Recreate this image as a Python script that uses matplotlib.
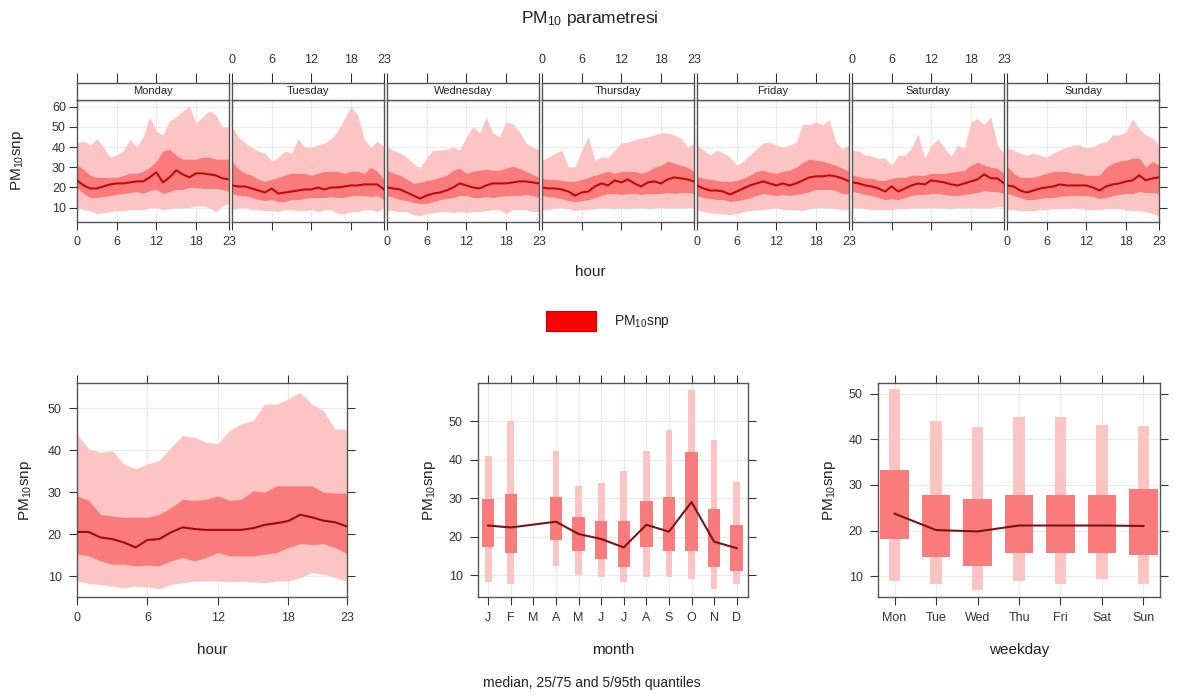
import numpy as np
import matplotlib
matplotlib.use('Agg')
import matplotlib.pyplot as plt
from matplotlib.patches import Rectangle

plt.rcParams['font.family'] = ['Liberation Sans', 'DejaVu Sans']
plt.rcParams['mathtext.fontset'] = 'custom'
plt.rcParams['mathtext.rm'] = 'Liberation Sans'
plt.rcParams['mathtext.it'] = 'Liberation Sans:italic'
plt.rcParams['axes.edgecolor'] = '#555555'
plt.rcParams['axes.linewidth'] = 1.0

# ---------------- data ----------------
hours = list(range(24))
days = ['Monday', 'Tuesday', 'Wednesday', 'Thursday', 'Friday', 'Saturday', 'Sunday']

# hour x weekday: median, 25/75, 5/95 quantiles
dh_med = [
    [23.5, 21, 19.5, 19.5, 20.5, 21.5, 22, 22, 22.5, 23, 23, 25, 27.5, 22.5, 25, 28.5, 26.5, 25, 27, 27, 26.5, 26, 24.5, 24],
    [21, 20.5, 20.5, 19.5, 18.5, 17.5, 19.5, 17, 17.5, 18, 18.5, 19, 19, 20, 19, 20, 20, 20.5, 21, 21, 21.5, 21.5, 21.5, 19],
    [20, 19.5, 19, 17.5, 16, 14.5, 16, 17, 17.5, 18.5, 20, 22, 21, 20, 19.5, 21, 22, 22, 22, 22.5, 23, 23, 22.5, 22],
    [20, 19.5, 19.5, 19, 18, 16, 17.5, 18, 20.5, 22, 21, 23.5, 22.5, 24, 22, 20.5, 22.5, 23, 22, 24, 25, 24.5, 24, 23],
    [21, 19.5, 18.5, 18.5, 18, 16.5, 18, 19.5, 21, 22, 23, 22, 21, 22, 21, 22, 23.5, 25, 25.5, 25.5, 26, 25.5, 24.5, 23],
    [22.5, 22, 21, 20.5, 19.5, 18, 20.5, 18, 19.5, 21, 22, 21.5, 23.5, 23, 22.5, 21.5, 21, 22, 23, 24, 26.5, 24.5, 24.5, 22],
    [21, 20.5, 18.5, 17.5, 18.5, 19.5, 20, 20.5, 21.5, 21, 21, 21, 21, 20, 18.5, 20.5, 21.5, 22, 23, 23.5, 26, 23.5, 24.5, 25],
]
dh_q25 = [
    [20, 17, 15, 15, 15.5, 16, 16.5, 17, 17.5, 18, 17, 18.5, 19, 17, 18, 19, 19, 20, 20, 19.5, 19.5, 19.5, 19, 18],
    [17, 16, 16, 15, 14, 13.5, 14, 13, 13, 14, 14, 14.5, 15, 15, 15, 15.5, 15, 15, 16, 16, 16, 15.5, 16, 14],
    [16, 15, 14, 13.5, 12.5, 12, 12, 13, 14, 14.5, 15, 16, 16, 15, 15, 15.5, 15, 15.5, 16, 16, 16, 16.5, 16, 15],
    [16, 15.5, 15, 14.5, 13.5, 13, 13.5, 14, 15, 16, 17, 17, 16.5, 17, 17, 16.5, 17, 17, 17, 17.5, 17, 17.5, 17.5, 17],
    [16, 15, 14.5, 14, 14, 13, 13.5, 14, 15, 16, 17, 16.5, 16, 16.5, 16, 16.5, 17, 18, 19, 19, 19, 18.5, 17, 17],
    [18, 17.5, 16.5, 16, 15, 14, 14.5, 14, 15, 16, 16.5, 16.5, 17, 17, 16.5, 16, 16, 16.5, 17, 17.5, 18.5, 18, 18, 17],
    [17, 16, 15, 14, 14, 14.5, 15, 15, 15.5, 16, 16, 16, 16, 15.5, 14.5, 15, 16, 16.5, 17, 17, 18, 17.5, 17.5, 17],
]
dh_q75 = [
    [31, 29, 26, 25, 25, 25, 25, 26, 27, 27, 28, 30, 33, 38, 39, 36, 34, 34, 34, 35, 35, 34, 34, 34],
    [33, 29, 27, 26, 24, 23, 24, 25, 26, 27, 27, 27, 26, 27, 28, 28, 28, 27, 28, 28, 27, 30, 28, 24],
    [28.5, 27, 26, 24, 22, 22.5, 23.5, 24, 25, 26, 28.5, 29.5, 27, 28, 28.5, 29, 28.5, 28.5, 29.5, 30.5, 29.5, 28, 26.5, 25],
    [24.5, 24, 24, 23.5, 23, 23, 24, 25, 26, 27, 28, 27, 28, 28, 28, 27, 28, 30, 31, 33, 32, 31, 30, 28],
    [25.5, 24.5, 24, 23.5, 23, 23, 23.5, 24.5, 26, 28, 28.5, 27.5, 27, 28, 28.5, 30, 32.5, 34, 33.5, 33, 32, 31, 29.5, 28],
    [26, 25.5, 24.5, 24.5, 23.5, 23.5, 24.5, 25, 25, 26, 26, 26, 27, 27, 27, 27.5, 28, 28.5, 31, 32.5, 31, 30, 29.5, 27],
    [30.5, 27, 25, 25, 25, 26, 27, 28, 28, 28, 27, 27, 26, 26, 26, 30, 32, 33, 33.5, 34.5, 34.5, 30, 33, 31],
]
dh_q05 = [
    [10, 9, 8.5, 7, 7.5, 8, 8.5, 8.5, 9, 9, 9, 10, 10, 9, 9.5, 10, 10, 10, 11, 11, 10, 8, 11, 12],
    [9, 10, 10, 9, 9, 8.5, 8.5, 8, 9, 9, 8.5, 8.5, 9, 8, 9, 9, 7, 7, 8, 8, 9, 9, 8, 10],
    [9, 8.5, 8, 8, 6.5, 6, 7, 7.5, 8, 8, 7.5, 8, 7.5, 8, 8, 8.5, 9, 9, 7, 9, 9, 9, 8, 8],
    [9, 9, 10, 10, 9.5, 8.5, 9, 9, 9.5, 10, 10, 9.5, 10, 9.5, 10, 10, 9.5, 10, 10, 10, 10, 10, 10, 10],
    [9, 8, 7.5, 7, 7, 6.5, 7, 8, 8.5, 9, 9, 9.5, 10, 9, 9, 9, 8.5, 9.5, 10, 10, 10, 9.5, 9, 9],
    [10, 10, 9.5, 9, 9, 9, 9, 9.5, 9.5, 10, 10, 10, 10, 10, 10, 9.5, 10, 10, 10, 10, 10, 10, 10.5, 10.5],
    [9, 9, 8.5, 8.5, 8.5, 9, 9, 9.5, 9.5, 9.5, 10, 9.5, 9, 9, 9, 9.5, 9.5, 9.5, 9, 8.5, 8.5, 8, 7, 6],
]
dh_q95 = [
    [42, 43, 41, 44, 40, 35, 36, 38, 44, 40, 45, 55, 48, 46, 53, 55, 58, 60, 52, 55, 58, 56, 50, 50],
    [50, 45, 42, 40, 38, 37, 33, 35, 38, 37, 44, 40, 40, 41, 42, 44, 48, 54, 60, 56, 44, 40, 43, 40],
    [40, 38.5, 37, 35, 32, 29.5, 35, 38.5, 38.5, 39, 40, 38.5, 45, 50, 47, 55, 47, 45, 52.5, 51.5, 48, 42, 40, 38.5],
    [33.5, 35, 37, 38.5, 30, 30, 38.5, 45, 33.5, 35, 35, 38.5, 42, 42.5, 43.5, 44.5, 45, 46, 47, 47, 46, 44.5, 40, 42],
    [41, 38.5, 36, 38.5, 37, 35, 31, 33, 36, 39, 42, 42.5, 41, 40, 41, 42.5, 51.5, 51, 52.5, 51, 53.5, 42.5, 39, 41],
    [38.5, 38, 36, 35.5, 34.5, 34.5, 31, 36, 36, 39.5, 46.5, 34.5, 41, 44, 39.5, 35.5, 41, 39.5, 52.5, 54, 51, 55, 41, 37],
    [39.5, 38.5, 37, 36, 37, 36, 35, 37, 38.5, 40, 41, 41, 39.5, 40, 42, 42.5, 46, 46, 47.5, 54, 49, 46, 44.5, 41],
]

# hour of day (all days)
hr_med = [20.5, 20.5, 19.2, 18.8, 18, 16.8, 18.6, 18.8, 20.4, 21.6, 21.2, 21, 21, 21, 21, 21.4, 22.2, 22.6, 23.1, 24.6, 24, 23.2, 22.8, 21.8]
hr_q25 = [15.3, 14.8, 13.6, 12.8, 12.8, 12.4, 12.6, 12.4, 13.6, 14.4, 13.6, 14.4, 15.6, 14.8, 14.8, 14.8, 15.2, 15.6, 16.8, 17.7, 17.5, 17.7, 16.8, 15.3]
hr_q75 = [29.1, 28, 24.7, 24.3, 24, 24, 24, 24.7, 26.3, 28.3, 28, 28.3, 29.1, 28, 28.3, 30.3, 30, 31.5, 31.5, 31.5, 31.5, 30, 29.8, 29.7]
hr_q05 = [8.8, 8.2, 8, 7.6, 7.2, 7.6, 7.4, 7, 8, 8.4, 8.8, 8.8, 8.8, 8.6, 8.8, 8.6, 8.4, 8.8, 8.8, 9.6, 10.8, 10.4, 9.6, 8.8]
hr_q95 = [43.9, 40.3, 39.5, 39.9, 36.7, 35.5, 36.7, 37.5, 40.7, 43.5, 43.1, 41.9, 41.5, 44.7, 46.3, 47.1, 51, 51, 52.2, 53.8, 51, 49.4, 45, 45]

# month (March missing)
months = ['J', 'F', 'M', 'A', 'M', 'J', 'J', 'A', 'S', 'O', 'N', 'D']
mo_med = [22.9, 22.4, np.nan, 23.9, 20.7, 19.4, 17.2, 23.1, 21.3, 29.0, 18.7, 17.0]
mo_q25 = [17.2, 15.7, np.nan, 19.1, 16.3, 14.3, 12.2, 17.2, 16.3, 16.3, 12.2, 11.1]
mo_q75 = [29.8, 31.1, np.nan, 30.3, 25.2, 24.2, 24.0, 29.2, 30.3, 42.0, 27.2, 23.0]
mo_q05 = [8.3, 7.8, np.nan, 12.4, 10.0, 9.4, 8.3, 9.4, 9.4, 9.0, 6.3, 7.7]
mo_q95 = [41.1, 50.0, np.nan, 42.4, 33.3, 33.9, 37.2, 42.3, 47.7, 58.1, 45.2, 34.3]

# weekday
wdays = ['Mon', 'Tue', 'Wed', 'Thu', 'Fri', 'Sat', 'Sun']
wd_med = [23.7, 20.1, 19.8, 21.1, 21.1, 21.1, 21.0]
wd_q25 = [18.1, 14.2, 12.2, 15.0, 15.0, 15.0, 14.6]
wd_q75 = [33.2, 27.7, 27.0, 27.9, 27.9, 27.9, 29.2]
wd_q05 = [9.0, 8.2, 7.0, 9.0, 8.3, 9.4, 8.3]
wd_q95 = [51.0, 44.0, 42.7, 45.0, 45.0, 43.2, 43.0]

# ---------------- styling ----------------
light = '#FDC4C4'
dark = '#F97B7B'
line_top = '#C00A0A'
line_hr = '#A00A0A'
line_box = '#7A1414'
grid_c = '#EAEAEA'
tick_c = '#333333'
ylab = r'PM$_{10}$snp'

W, H = 1179, 698
fig = plt.figure(figsize=(W / 100, H / 100), dpi=100)


def px_axes(x0, y0, x1, y1):
    return fig.add_axes([x0 / W, 1 - y1 / H, (x1 - x0) / W, (y1 - y0) / H])


def add_grid(ax, xs, ys):
    for x in xs:
        ax.axvline(x, color=grid_c, lw=0.8, zorder=0)
    for y in ys:
        ax.axhline(y, color=grid_c, lw=0.8, zorder=0)


# ---------------- top: hour by weekday ----------------
for i, day in enumerate(days):
    x0 = 77 + i * 155
    ax = px_axes(x0, 100, x0 + 152, 222)
    ax.fill_between(hours, dh_q05[i], dh_q95[i], color=light, lw=0, zorder=1)
    ax.fill_between(hours, dh_q25[i], dh_q75[i], color=dark, lw=0, zorder=2)
    ax.plot(hours, dh_med[i], color=line_top, lw=1.5, zorder=3)
    ax.set_xlim(0, 23)
    ax.set_ylim(2.9, 63.3)
    ax.set_xticks([0, 6, 12, 18, 23])
    ax.set_yticks(range(10, 61, 10))
    add_grid(ax, [6, 12, 18], range(10, 61, 10))
    ax.tick_params(direction='out', length=6, color=tick_c, labelcolor=tick_c, labelsize=9, pad=4)
    ax.tick_params(axis='x', labelbottom=(i % 2 == 0))
    ax.tick_params(axis='y', left=(i == 0), labelleft=(i == 0), right=(i == 6), labelright=False, pad=2)

    strip = px_axes(x0, 83, x0 + 152, 100)
    strip.set_xlim(0, 23)
    strip.set_xticks([0, 6, 12, 18, 23])
    strip.set_yticks([])
    strip.tick_params(axis='x', bottom=False, labelbottom=False, top=True, labeltop=(i % 2 == 1),
                      direction='out', length=7, color=tick_c, labelcolor=tick_c, labelsize=9, pad=5)
    strip.text(0.5, 0.5, day, ha='center', va='center', fontsize=8, color='#222222',
               transform=strip.transAxes)

fig.text(18 / W, 1 - 160 / H, ylab, rotation=90, ha='center', va='center', fontsize=11, color='#222222')
fig.text(590 / W, 1 - 272 / H, 'hour', ha='center', va='center', fontsize=11, color='#222222')
fig.text(590 / W, 1 - 18 / H, r'PM$_{10}$ parametresi', ha='center', va='center', fontsize=12.5, color='#222222')

# legend
fig.patches.append(Rectangle((546 / W, 1 - 331 / H), 50 / W, 20 / H, transform=fig.transFigure,
                             facecolor='#FF0000', edgecolor='#CC0000', lw=0.8))
fig.text(614 / W, 1 - 321 / H, ylab, ha='left', va='center', fontsize=10, color='#222222')

# ---------------- bottom left: hour ----------------
ax = px_axes(77, 383, 347, 597)
ax.fill_between(hours, hr_q05, hr_q95, color=light, lw=0, zorder=1)
ax.fill_between(hours, hr_q25, hr_q75, color=dark, lw=0, zorder=2)
ax.plot(hours, hr_med, color=line_hr, lw=1.5, zorder=3)
ax.set_xlim(0, 23)
ax.set_ylim(5, 56)
ax.set_xticks([0, 6, 12, 18, 23])
ax.set_yticks(range(10, 51, 10))
add_grid(ax, [6, 12, 18], range(10, 51, 10))
ax.tick_params(direction='out', length=6, color=tick_c, labelcolor=tick_c, labelsize=9,
               top=True, right=True, pad=5)
ax.set_ylabel(ylab, fontsize=11, color='#222222', labelpad=10)
fig.text(212 / W, 1 - 650 / H, 'hour', ha='center', va='center', fontsize=11, color='#222222')

# ---------------- bottom middle: month ----------------
mx = np.arange(1, 13)
mo_med_a = np.array(mo_med)
ax = px_axes(478, 383, 748, 597)
ax.bar(mx, np.array(mo_q95) - np.array(mo_q05), bottom=mo_q05, width=0.3, color=light, lw=0, zorder=1)
ax.bar(mx, np.array(mo_q75) - np.array(mo_q25), bottom=mo_q25, width=0.55, color=dark, lw=0, zorder=2)
ok = ~np.isnan(mo_med_a)
ax.plot(mx[ok], mo_med_a[ok], color=line_box, lw=1.5, zorder=3)
ax.set_xlim(0.55, 12.5)
ax.set_ylim(4.3, 60)
ax.set_xticks(mx)
ax.set_xticklabels(months)
ax.set_yticks(range(10, 51, 10))
add_grid(ax, mx, range(10, 51, 10))
ax.tick_params(direction='out', length=6, color=tick_c, labelcolor=tick_c, labelsize=9,
               top=True, right=True, pad=5)
ax.set_ylabel(ylab, fontsize=11, color='#222222', labelpad=8)
fig.text(613 / W, 1 - 650 / H, 'month', ha='center', va='center', fontsize=11, color='#222222')
fig.text(592 / W, 1 - 683 / H, 'median, 25/75 and 5/95th quantiles', ha='center', va='center',
         fontsize=10, color='#222222')

# ---------------- bottom right: weekday ----------------
wx = np.arange(1, 8)
ax = px_axes(878, 383, 1160, 597)
ax.bar(wx, np.array(wd_q95) - np.array(wd_q05), bottom=wd_q05, width=0.28, color=light, lw=0, zorder=1)
ax.bar(wx, np.array(wd_q75) - np.array(wd_q25), bottom=wd_q25, width=0.68, color=dark, lw=0, zorder=2)
ax.plot(wx, wd_med, color=line_box, lw=1.5, zorder=3)
ax.set_xlim(0.6, 7.4)
ax.set_ylim(5.4, 52.4)
ax.set_xticks(wx)
ax.set_xticklabels(wdays)
ax.set_yticks(range(10, 51, 10))
add_grid(ax, wx, range(10, 51, 10))
ax.tick_params(direction='out', length=6, color=tick_c, labelcolor=tick_c, labelsize=9,
               top=True, right=True, pad=5)
ax.set_ylabel(ylab, fontsize=11, color='#222222', labelpad=8)
fig.text(1019 / W, 1 - 650 / H, 'weekday', ha='center', va='center', fontsize=11, color='#222222')

fig.savefig('out.png', dpi=100)
